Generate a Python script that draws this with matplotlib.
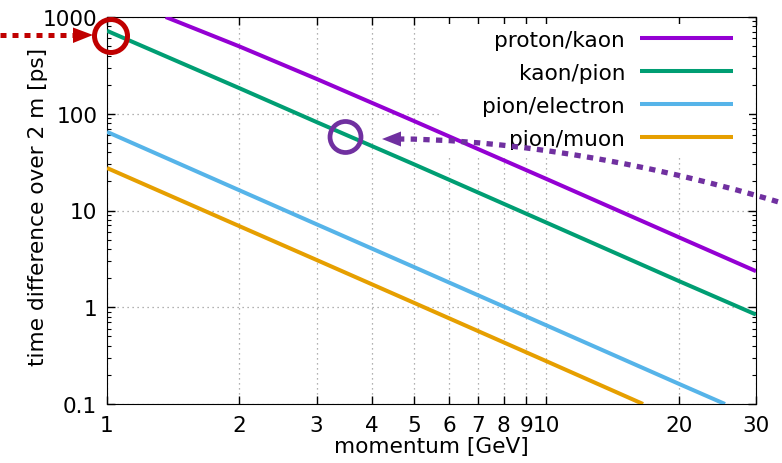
import matplotlib
matplotlib.use("Agg")
import matplotlib.pyplot as plt
from matplotlib.ticker import FixedLocator, LogLocator, NullFormatter, NullLocator
from matplotlib.patches import Ellipse, Polygon, Rectangle, PathPatch
from matplotlib.path import Path

plt.rcParams['font.family'] = ['DejaVu Sans']

# data (momentum in GeV, time difference in ps)
p_pk = [1.36, 2, 3, 5, 10, 20, 30]
dt_pk = [1000, 497, 229, 84, 21.2, 5.3, 2.36]
p_kp = [1, 2, 3, 5, 10, 20, 30]
dt_kp = [720, 184, 82, 30, 7.5, 1.87, 0.84]
p_pe = [1, 2, 3, 5, 10, 20, 25.5]
dt_pe = [65, 16.2, 7.2, 2.6, 0.65, 0.162, 0.1]
p_pm = [1, 2, 3, 5, 10, 16.6]
dt_pm = [27.5, 6.9, 3.08, 1.11, 0.277, 0.1]

series = [
    ("proton/kaon", p_pk, dt_pk, "#9400d3"),
    ("kaon/pion", p_kp, dt_kp, "#009e73"),
    ("pion/electron", p_pe, dt_pe, "#56b4e9"),
    ("pion/muon", p_pm, dt_pm, "#e69f00"),
]

x_ticks = [1, 2, 3, 4, 5, 6, 7, 8, 9, 10, 20, 30]
x_ticklabels = ["1", "2", "3", "4", "5", "6", "7", "8", "9", "10", "20", "30"]
y_ticks = [0.1, 1, 10, 100, 1000]
y_ticklabels = ["0.1", "1", "10", "100", "1000"]

FS = 15.6
W, H = 782, 464
X0, X1, Y0, Y1 = 107, 756, 18, 405
fig = plt.figure(figsize=(W / 100, H / 100), dpi=100)
ax = fig.add_axes([X0 / W, 1 - Y1 / H, (X1 - X0) / W, (Y1 - Y0) / H])

def ax_x(px):
    return (px - X0) / (X1 - X0)

def ax_y(py):
    return (Y1 - py) / (Y1 - Y0)

for label, x, y, c in series:
    ax.plot(x, y, color=c, lw=2.9, label=label, solid_capstyle='butt', zorder=3)

ax.set_xscale('log')
ax.set_yscale('log')
ax.set_xlim(1, 30)
ax.set_ylim(0.1, 1000)

ax.xaxis.set_major_locator(FixedLocator(x_ticks))
ax.set_xticklabels(x_ticklabels)
ax.xaxis.set_minor_locator(NullLocator())
ax.yaxis.set_major_locator(FixedLocator(y_ticks))
ax.set_yticklabels(y_ticklabels)
ax.yaxis.set_minor_locator(LogLocator(base=10, subs=range(2, 10)))
ax.yaxis.set_minor_formatter(NullFormatter())

ax.tick_params(which='both', direction='in', top=True, right=True, labelsize=FS)
ax.tick_params(which='major', length=6, width=1)
ax.tick_params(which='minor', length=3, width=0.8)
ax.tick_params(axis='x', pad=8)
ax.tick_params(axis='y', pad=7)

ax.grid(True, which='major', linestyle=(0, (1, 3)), color='#999999', lw=0.9)

ax.set_xlabel("momentum [GeV]", fontsize=FS, labelpad=1)
ax.set_ylabel("time difference over 2 m [ps]", fontsize=FS)
ax.yaxis.set_label_coords(ax_x(48), ax_y(206.5))

# opaque key area: hides grid, not the curves
ax.add_patch(Rectangle((ax_x(440), ax_y(157)), ax_x(749) - ax_x(440),
                       ax_y(25) - ax_y(157), transform=ax.transAxes,
                       fc='white', ec='none', zorder=1.8))

leg = ax.legend(loc='upper right', bbox_to_anchor=(ax_x(733), ax_y(31)),
                markerfirst=False, fontsize=FS, handlelength=4.29,
                handletextpad=0.69, labelspacing=0.6, frameon=False,
                borderaxespad=0, borderpad=0)

def fx(x):
    return x / W

def fy(y):
    return 1 - y / H

T = fig.transFigure
red = '#c00000'
purple = '#7030a0'

# red circle and arrow
fig.add_artist(Ellipse((fx(111), fy(37)), 2 * 16.5 / W, 2 * 16.5 / H,
                       fill=False, ec=red, lw=3.6, transform=T, zorder=10))
fig.add_artist(plt.Line2D([fx(0), fx(74)], [fy(36), fy(36)], transform=T,
                          color=red, lw=3.6, linestyle=(0, (1.2, 1.2)),
                          dash_capstyle='butt', zorder=10))
fig.add_artist(Polygon([(fx(73), fy(28.5)), (fx(93), fy(36)), (fx(73), fy(44))],
                       closed=True, fc=red, ec='none', transform=T, zorder=10))

# purple circle and curved arrow
fig.add_artist(Ellipse((fx(345.5), fy(138)), 2 * 15.5 / W, 2 * 15.5 / H,
                       fill=False, ec=purple, lw=3.4, transform=T, zorder=10))
verts = [(fx(398), fy(140)), (fx(480), fy(140)), (fx(620), fy(155)), (fx(782), fy(204))]
path = Path(verts, [Path.MOVETO, Path.CURVE4, Path.CURVE4, Path.CURVE4])
fig.add_artist(PathPatch(path, fill=False, ec=purple, lw=3.8,
                         linestyle=(0, (1.2, 1.2)), capstyle='butt',
                         transform=T, zorder=4))
fig.add_artist(Polygon([(fx(401), fy(132.5)), (fx(382), fy(140)), (fx(401), fy(147.5))],
                       closed=True, fc=purple, ec='none', transform=T, zorder=10))

fig.savefig("out.png", dpi=100)
